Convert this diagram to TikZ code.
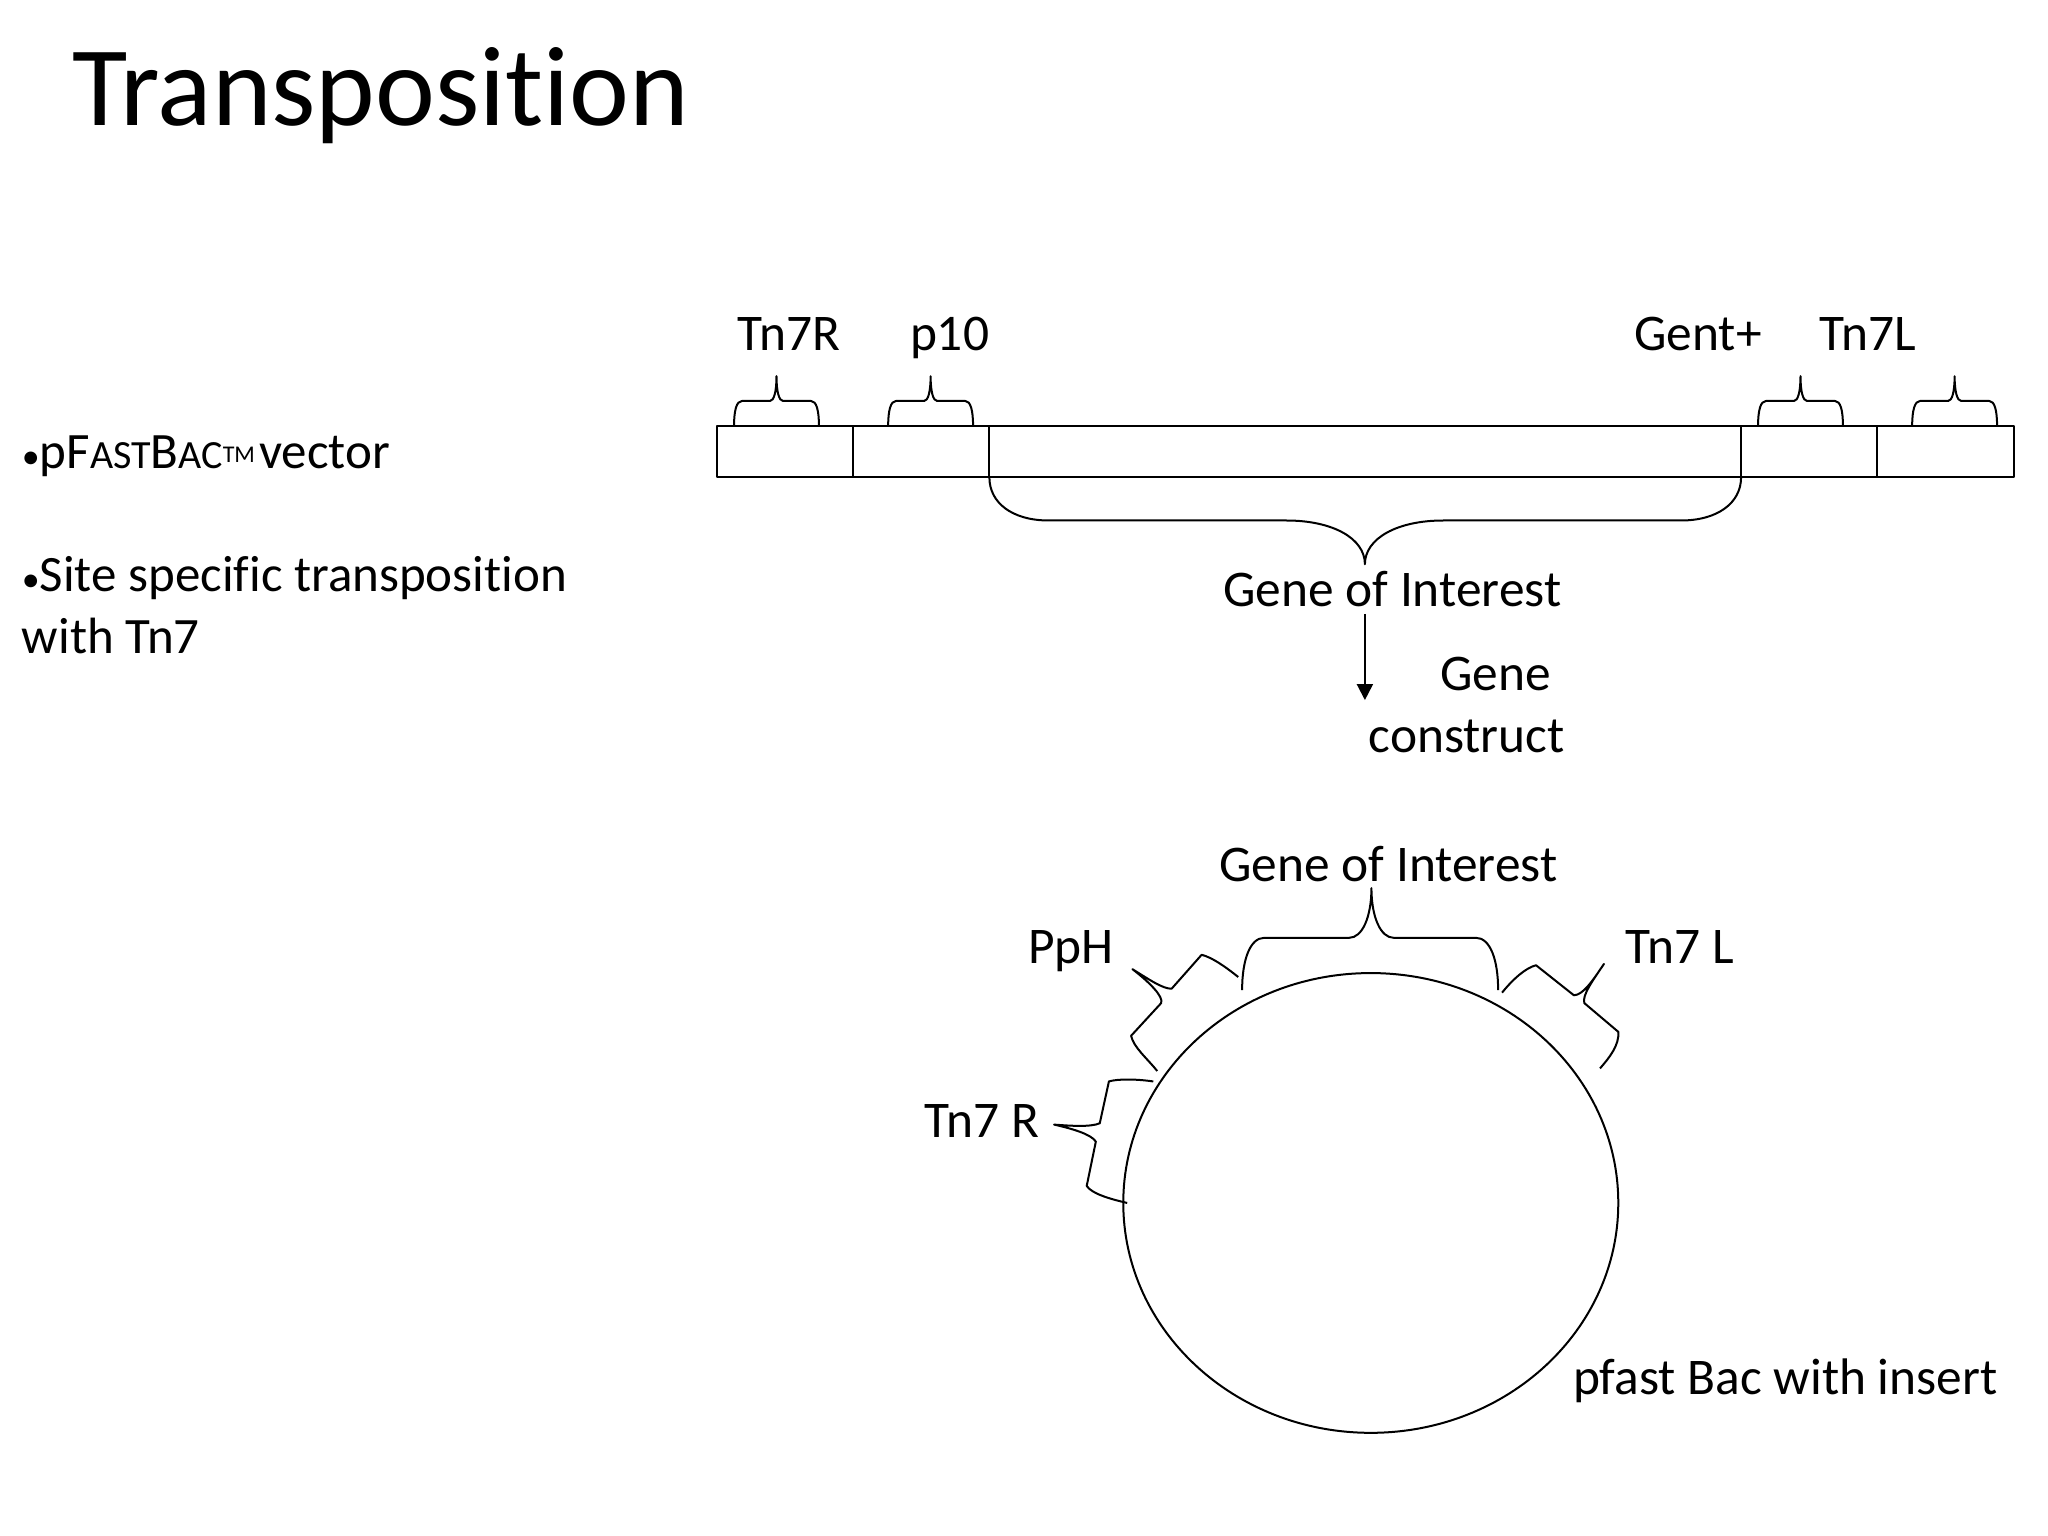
\documentclass[tikz,border=0pt]{standalone}
\usepackage{fontspec}
\setmainfont{Carlito}[RawFeature={-liga;-clig}]
\usetikzlibrary{arrows.meta}
\tikzset{
  ink/.style={draw=black,line width=1pt,line join=round},
  lbl/.style={anchor=base,inner sep=0pt,font=\fontsize{25.7}{30}\selectfont,text=black},
  lbw/.style={lbl,anchor=base west,font=\fontsize{25.5}{30}\selectfont},
}
% small brace above the strip: left x, right x
\newcommand{\tinybrace}[2]{%
  \draw[ink] (#1,326) .. controls (#1,314) and (#1+2,307) .. (#1+6,307)
    -- ({(#1+#2)/2-5},307) .. controls ({(#1+#2)/2-2},307) and ({(#1+#2)/2},300) .. ({(#1+#2)/2},288)
    .. controls ({(#1+#2)/2},300) and ({(#1+#2)/2+2},307) .. ({(#1+#2)/2+5},307)
    -- (#2-6,307) .. controls (#2-2,307) and (#2,314) .. (#2,326);}
\newcommand{\smbul}{{\fontsize{18}{20}\selectfont •}}
\begin{document}
\begin{tikzpicture}[x=0.653pt,y=-0.653pt]
\useasboundingbox (0,0) rectangle (1568,1176);
\fill[white] (0,0) rectangle (1568,1176);

\node[lbw,font=\fontsize{56.7}{60}\selectfont] (title) at (55,96) {Transposition};

\node[lbw] (b1) at (16.5,359) {\smbul pF{\fontsize{20}{24}\selectfont AST}B{\fontsize{20}{24}\selectfont AC}\raisebox{3pt}{\fontsize{12}{14}\selectfont TM}\hspace{2pt}vector};
\node[lbw] (b2) at (16.5,453) {\smbul Site specific transposition};
\node[lbw] (b3) at (16.5,500) {with Tn7};

% strip
\coordinate (stripNW) at (549,326.5);
\coordinate (stripSE) at (1542,365.5);
\draw[ink] (stripNW) rectangle (stripSE);
\foreach \x in {653,757.5,1333,1437} \draw[ink] (\x,326.5) -- (\x,365.5);

\tinybrace{562}{627}
\tinybrace{680}{745}
\tinybrace{1346}{1411}
\tinybrace{1464}{1529}

\node[lbl] (tnr) at (604,268) {Tn7R};
\node[lbl] (p10) at (727,268) {p10};
\node[lbl] (gent) at (1300,268) {Gent+};
\node[lbl] (tnl) at (1430,268) {Tn7L};

% large brace below the strip
\draw[ink] (757.5,365.5) .. controls (757.5,385) and (775,398.5) .. (803,398.5)
  -- (985,398.5) .. controls (1020,398.5) and (1045,412) .. (1045,432)
  .. controls (1045,412) and (1070,398.5) .. (1105,398.5)
  -- (1287,398.5) .. controls (1315,398.5) and (1333,385) .. (1333,365.5);

\node[lbl] (goi1) at (1066,464) {Gene of Interest};
\coordinate (arrowA) at (1045,470);
\coordinate (arrowB) at (1045,536);
\draw[ink,-{Triangle[width=8pt,length=8pt]}] (arrowA) -- (arrowB);
\node[lbl] (gene) at (1145,529) {Gene};
\node[lbl] (cons) at (1123,576) {construct};

% plasmid
\draw[ink] (1049.5,921) ellipse [x radius=189.5,y radius=176];

\node[lbl] (goi2) at (1063,675) {Gene of Interest};
\node[lbl] (pph) at (820,738) {PpH};
\node[lbl] (t7l) at (1286,738) {Tn7 L};
\node[lbl] (t7r) at (752,871) {Tn7 R};
\node[lbl] (pf) at (1367,1068) {pfast Bac with insert};

% gene of interest brace
\draw[ink] (951,758) .. controls (951,735) and (957,718) .. (968,718)
  -- (1033,718) .. controls (1043,718) and (1050,702) .. (1050,680)
  .. controls (1050,702) and (1057,718) .. (1067,718)
  -- (1130,718) .. controls (1141,718) and (1147,735) .. (1147,758);

% PpH brace
\draw[ink] (948,748) .. controls (938,740) and (928,733) .. (920,731)
  -- (897,757) .. controls (890,757) and (880,750) .. (867,742)
  .. controls (880,752) and (891,763) .. (889,768)
  -- (866,793) .. controls (868,802) and (878,810) .. (886,820);

% Tn7 R brace
\draw[ink] (883,828) .. controls (870,826) and (855,826) .. (849,828)
  -- (842,860) .. controls (835,863) and (820,862) .. (807,861)
  .. controls (820,864) and (835,868) .. (839,874)
  -- (832,908) .. controls (836,914) and (850,918) .. (863,921);

% Tn7 L brace
\draw[ink] (1150,760) .. controls (1158,750) and (1168,741) .. (1176,739)
  -- (1205,762) .. controls (1212,762) and (1220,750) .. (1228,738)
  .. controls (1220,750) and (1211,762) .. (1213,768)
  -- (1239,790) .. controls (1240,800) and (1232,810) .. (1225,818);
\end{tikzpicture}
\end{document}
